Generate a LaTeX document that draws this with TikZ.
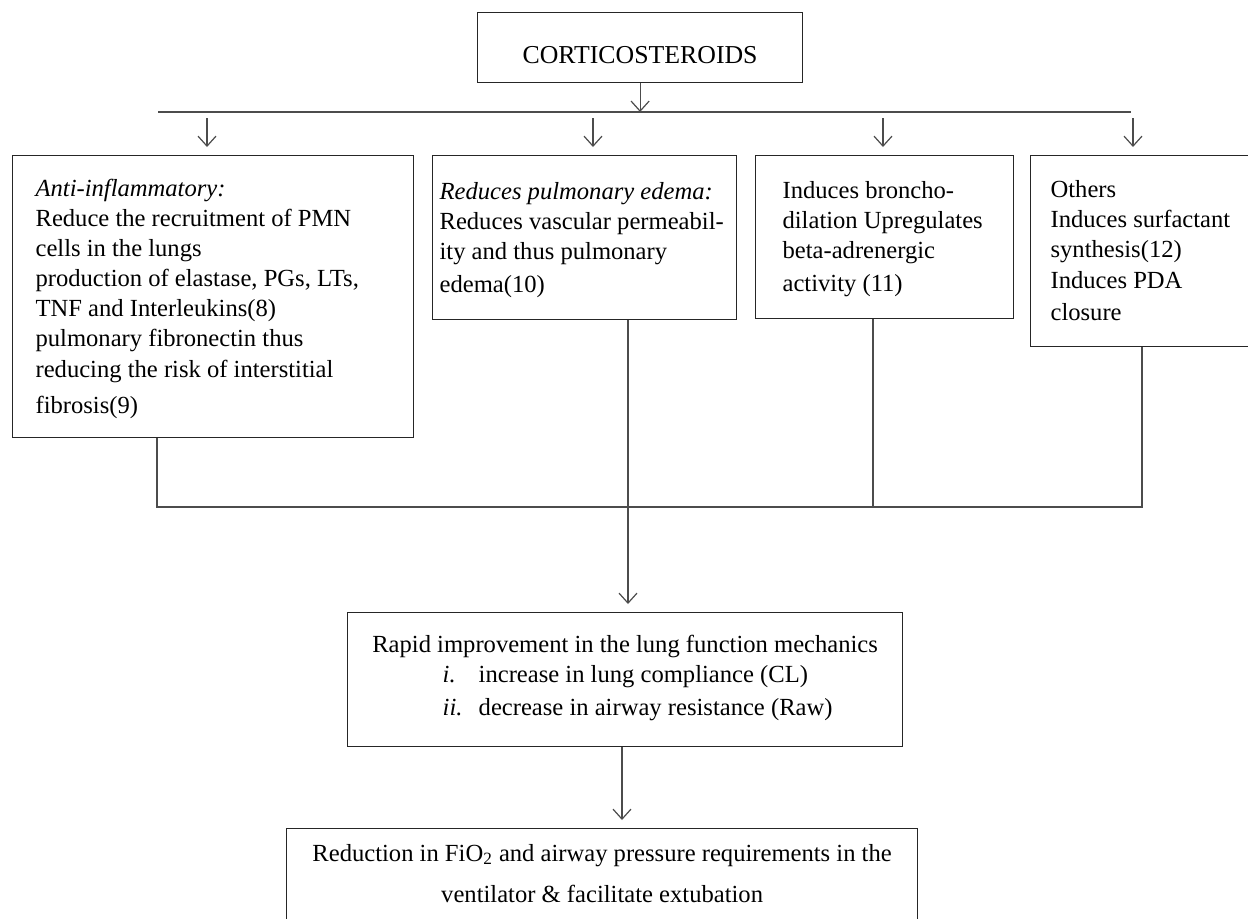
\documentclass[tikz,border=0pt]{standalone}
\usepackage{fontspec}
\setmainfont{Liberation Serif}
\usetikzlibrary{arrows.meta}
\newcommand{\tophi}{\rule{0pt}{12.5pt}}
\newcommand{\botlo}{\rule[-4.5pt]{0pt}{4.5pt}}
\tikzstyle{box}=[rectangle, draw=black!85, line width=0.6pt, anchor=north west, align=flush left, inner ysep=0pt, font=\fontsize{12.3pt}{15pt}\selectfont]
\tikzstyle{conn}=[draw=black!70, line width=0.6pt]
\tikzstyle{arr}=[conn, -{Straight Barb[length=5pt,width=9pt]}]

\begin{document}
\begin{tikzpicture}[x=0.5pt, y=-0.5pt]
\useasboundingbox (0,0) rectangle (1248,918);
\node[box, align=center, inner xsep=0pt, minimum width=162.5pt, minimum height=35pt, text height=16pt, text depth=0pt, font=\fontsize{12.9pt}{15pt}\selectfont] (cort) at (477,12) {CORTICOSTEROIDS};
\node[box, inner xsep=11.5pt, text width=177.5pt, minimum height=141pt] (anti) at (12,155) {\tophi\textit{Anti-inflammatory:}\\ Reduce the recruitment of PMN\\ cells in the lungs\\ production of elastase, PGs, LTs,\\ TNF and Interleukins(8)\\ pulmonary fibronectin thus\\[0.5pt] reducing the risk of interstitial\\[3pt] fibrosis(9)\botlo};
\node[box, inner xsep=3.5pt, text width=145pt, minimum height=82pt] (edema) at (432,155) {\tophi\textit{Reduces pulmonary edema:}\\ Reduces vascular permeabil-\\ ity and thus pulmonary\\[1.5pt] edema(10)\botlo};
\node[box, inner xsep=13.5pt, text width=102pt, minimum height=81.5pt] (broncho) at (755,155) {\tophi Induces broncho-\\ dilation Upregulates\\ beta-adrenergic\\[1.5pt] activity (11)\botlo};
\node[box, inner xsep=10pt, text width=95pt, minimum height=95.5pt] (others) at (1030,155) {\tophi Others\\ Induces surfactant\\ synthesis(12)\\[0.5pt] Induces PDA\\[1pt] closure\botlo};
\node[box, align=center, inner xsep=0pt, minimum width=277.5pt, minimum height=67pt] (rapid) at (347,612) {Rapid improvement in the lung function mechanics\\[1pt] \hspace*{12.5pt}\begin{tabular}{@{}p{18pt}@{}l@{}}\textit{i.} & increase in lung compliance (CL)\\[1.5pt] \textit{ii.} & decrease in airway resistance (Raw)\end{tabular}};
\node[box, align=center, inner xsep=0pt, inner ysep=7.8pt, minimum width=315.5pt] (fin) at (286,828) {Reduction in FiO\textsubscript{2} and airway pressure requirements in the\\[5.5pt] ventilator \& facilitate extubation\rule[-12pt]{0pt}{12pt}};
\coordinate (tl) at (158,112);
\coordinate (tr) at (1131,112);
\draw[conn] (tl) -- (tr);
\draw[arr] (cort) -- (cort |- tl);
\coordinate (d1) at (207,118);
\coordinate (d2) at (593,118);
\coordinate (d3) at (883,118);
\coordinate (d4) at (1133,118);
\draw[arr, shorten >=4pt] (d1) -- (d1 |- anti.north);
\draw[arr, shorten >=4pt] (d2) -- (d2 |- edema.north);
\draw[arr, shorten >=4pt] (d3) -- (d3 |- broncho.north);
\draw[arr, shorten >=4pt] (d4) -- (d4 |- others.north);
\coordinate (bl) at (157,507);
\coordinate (em) at (628,507);
\coordinate (bm) at (873,507);
\coordinate (br) at (1142,507);
\draw[conn] (anti.south -| bl) -- (bl) -- (br) -- (others.south -| br);
\draw[conn] (broncho.south -| bm) -- (bm);
\draw[arr, shorten >=4pt] (edema.south -| em) -- (rapid.north -| em);
\coordinate (rm) at (622,780);
\draw[arr, shorten >=4pt] (rapid.south -| rm) -- (fin.north -| rm);
\end{tikzpicture}
\end{document}
